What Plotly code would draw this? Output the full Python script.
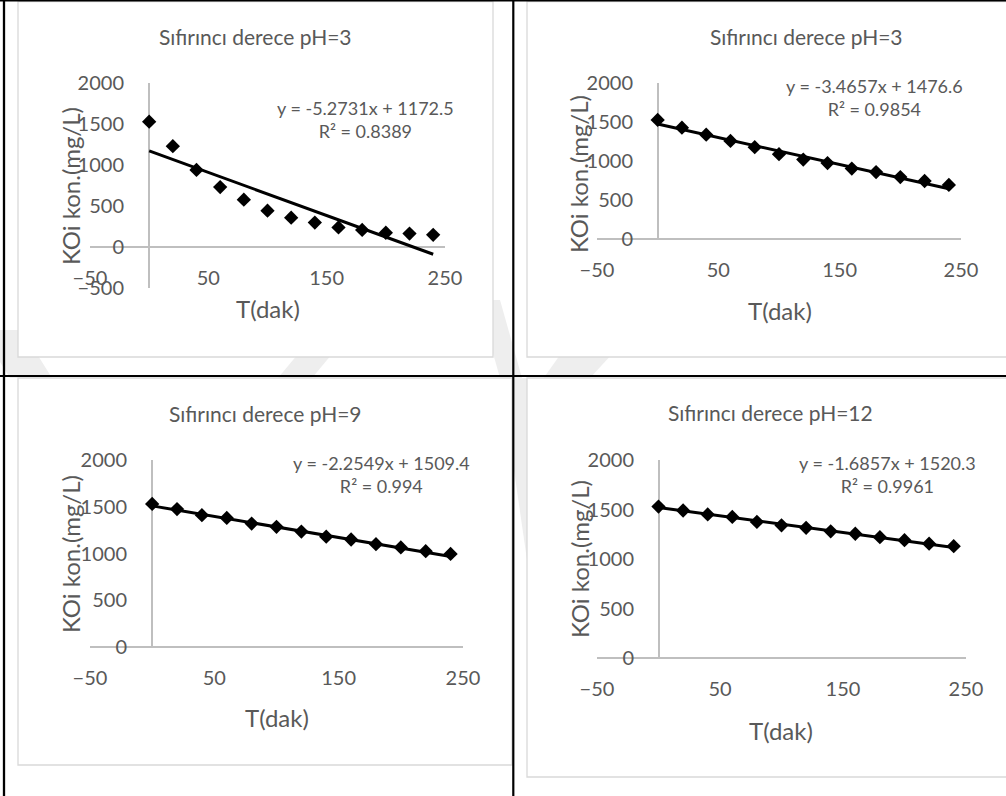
import plotly.graph_objects as go

# Sampling times (dak) shared by all four runs
t_dak = [0, 20, 40, 60, 80, 100, 120, 140, 160, 180, 200, 220, 240]

# KOİ concentration (mg/L) for each run
koi_ph3_a = [1530, 1230, 940, 730, 575, 440, 355, 295, 235, 205, 170, 160, 145]
koi_ph3_b = [1530, 1430, 1340, 1260, 1180, 1090, 1020, 975, 905, 860, 795, 745, 695]
koi_ph9 = [1530, 1475, 1410, 1380, 1320, 1285, 1235, 1180, 1150, 1100, 1065, 1025, 995]
koi_ph12 = [1530, 1490, 1450, 1425, 1375, 1340, 1315, 1280, 1255, 1220, 1190, 1155, 1130]

titles = ["Sıfırıncı derece pH=3", "Sıfırıncı derece pH=3",
          "Sıfırıncı derece pH=9", "Sıfırıncı derece pH=12"]

# Zero-order linear fits y = a*x + b
slopes = [-5.2731, -3.4657, -2.2549, -1.6857]
intercepts = [1172.5, 1476.6, 1509.4, 1520.3]
r_squared = ["0.8389", "0.9854", "0.994", "0.9961"]

x_ticks = [-50, 50, 150, 250]
x_range = [-50, 250]
y_mins = [-500, 0, 0, 0]
y_max = 2000
y_step = 500

series = [koi_ph3_a, koi_ph3_b, koi_ph9, koi_ph12]

# ---- page geometry (pixels) ----
W, H = 1006, 796
TEXT = "#595959"
FONT = "Lato"
TICK_SIZE = 20
TITLE_SIZE = 21
AXTITLE_SIZE = 24
EQ_SIZE = 18

panels = [
    dict(plot=(90, 83.3, 445, 287.5), title=(256, 37), eq=(365, 119.5),
         xt=(268, 308), yt=(70, 186), frame=(18, 1.5, 493, 357)),
    dict(plot=(597, 83.3, 961, 239), title=(806, 37), eq=(874, 97.5),
         xt=(780, 310), yt=(578, 174), frame=(527, 1.5, 1012, 357)),
    dict(plot=(90, 460, 463, 647), title=(265, 413), eq=(381, 474.5),
         xt=(277, 717), yt=(70, 554), frame=(18, 378, 512, 765)),
    dict(plot=(597, 460, 966, 658), title=(770, 412), eq=(887, 474.5),
         xt=(781, 730), yt=(579, 559), frame=(527, 378, 1012, 777)),
]

# faint background logo strokes, visible between the chart frames
logo_bands = [
    [(-20, 330), (22, 330), (52, 378), (10, 378)],
    [(318, 330), (352, 330), (312, 378), (278, 378)],
    [(478, 300), (500, 300), (522, 378), (500, 378)],
    [(560, 355), (592, 355), (560, 400), (528, 400)],
    [(514, 378), (527, 378), (527, 560), (514, 470)],
    [(600, 340), (625, 340), (590, 378), (565, 378)],
]


def fx(px):
    return px / W


def fy(py):
    return 1 - py / H


fig = go.Figure()
layout = dict(
    width=W, height=H, autosize=False,
    margin=dict(l=0, r=0, t=0, b=0, pad=0, autoexpand=False),
    paper_bgcolor="white", plot_bgcolor="rgba(0,0,0,0)",
    showlegend=False,
    font=dict(family=FONT, color=TEXT),
)
shapes = []
annotations = []

for band in logo_bands:
    path = "M " + " L ".join(f"{fx(x):.5f},{fy(y):.5f}" for x, y in band) + " Z"
    shapes.append(dict(type="path", xref="paper", yref="paper", path=path,
                       fillcolor="#eeeeee", line=dict(width=0), layer="below"))

for i, (p, ys, title, a, b, r2) in enumerate(
        zip(panels, series, titles, slopes, intercepts, r_squared)):
    n = "" if i == 0 else str(i + 1)
    xa, ya = "x" + n, "y" + n
    x0, y0, x1, y1 = p["plot"]
    ymin = y_mins[i]

    # chart-area frame
    fx0, fy0, fx1, fy1 = p["frame"]
    shapes.append(dict(type="rect", xref="paper", yref="paper",
                       x0=fx(fx0), x1=fx(fx1), y0=fy(fy0), y1=fy(fy1),
                       fillcolor="white",
                       line=dict(color="#d9d9d9", width=1.3), layer="below"))

    # data points
    fig.add_trace(go.Scatter(
        x=t_dak, y=ys, mode="markers", xaxis=xa, yaxis=ya,
        marker=dict(symbol="diamond", size=11, color="black",
                    line=dict(width=0))))
    # linear trendline from the fitted equation
    tx = [t_dak[0], t_dak[-1]]
    fig.add_trace(go.Scatter(
        x=tx, y=[a * t + b for t in tx], mode="lines", xaxis=xa, yaxis=ya,
        line=dict(color="black", width=3)))

    # axis lines cross at the origin; labels sit next to them
    zero_x = x0 + (0 - x_range[0]) / (x_range[1] - x_range[0]) * (x1 - x0)
    zero_y = y1 - (0 - ymin) / (y_max - ymin) * (y1 - y0)
    x_lab_center = zero_y + 31
    x_standoff = round(x_lab_center - (y1 + 0.35 * TICK_SIZE + 7))
    y_lab_right = zero_x - 23
    y_standoff = round(-(y_lab_right - x0) + 1)

    layout["xaxis" + n] = dict(
        domain=[fx(x0), fx(x1)], range=x_range, anchor=ya,
        tickvals=x_ticks, showgrid=False, showline=False, ticks="",
        zeroline=True, zerolinecolor="#bfbfbf", zerolinewidth=1.5,
        tickfont=dict(family=FONT, size=TICK_SIZE, color=TEXT),
        ticklabelstandoff=x_standoff, automargin=False, fixedrange=True)
    layout["yaxis" + n] = dict(
        domain=[fy(y1), fy(y0)], range=[ymin, y_max], anchor=xa,
        dtick=y_step, tick0=0, showgrid=False, showline=False, ticks="",
        zeroline=True, zerolinecolor="#bfbfbf", zerolinewidth=1.5,
        tickfont=dict(family=FONT, size=TICK_SIZE, color=TEXT),
        ticklabelstandoff=y_standoff, automargin=False, fixedrange=True)

    # texts
    annotations.append(dict(xref="paper", yref="paper",
                            x=fx(p["title"][0]), y=fy(p["title"][1]),
                            text=title, showarrow=False,
                            xanchor="center", yanchor="middle",
                            font=dict(size=TITLE_SIZE, color=TEXT, family=FONT)))
    annotations.append(dict(xref="paper", yref="paper",
                            x=fx(p["eq"][0]), y=fy(p["eq"][1]),
                            text=f"y = {a}x + {b}<br>R² = {r2}",
                            showarrow=False, align="center",
                            xanchor="center", yanchor="middle",
                            font=dict(size=EQ_SIZE, color=TEXT, family=FONT)))
    annotations.append(dict(xref="paper", yref="paper",
                            x=fx(p["xt"][0]), y=fy(p["xt"][1]),
                            text="T(dak)", showarrow=False,
                            xanchor="center", yanchor="middle",
                            font=dict(size=AXTITLE_SIZE, color=TEXT, family=FONT)))
    annotations.append(dict(xref="paper", yref="paper",
                            x=fx(p["yt"][0]), y=fy(p["yt"][1]),
                            text="KOi kon.(mg/L)", showarrow=False, textangle=-90,
                            xanchor="center", yanchor="middle",
                            font=dict(size=AXTITLE_SIZE, color=TEXT, family=FONT)))

# table rules
for (ax0, ay0, ax1, ay1, w) in [(0, 0.7, W, 0.7, 1.5), (4, 0, 4, H, 2.3),
                                 (513.3, 0, 513.3, H, 2.2), (0, 376, W, 376, 2.2)]:
    shapes.append(dict(type="line", xref="paper", yref="paper",
                       x0=fx(ax0), x1=fx(ax1), y0=fy(ay0), y1=fy(ay1),
                       line=dict(color="black", width=w)))

layout["shapes"] = shapes
layout["annotations"] = annotations
fig.update_layout(**layout)
fig.write_html("out.html")
